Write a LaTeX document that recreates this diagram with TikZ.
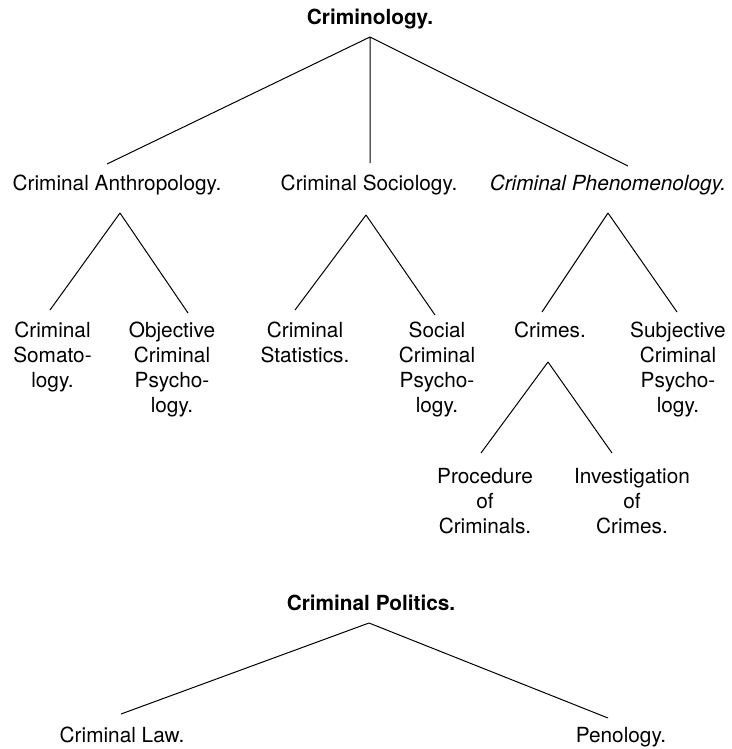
\documentclass[tikz,border=0pt]{standalone}
\usepackage{fontspec}
\setmainfont{TeX Gyre Heros}
\tikzset{
    every picture/.style={
        x=1pt,y=-1pt,line width=1pt,
        every node/.style={inner sep=0pt,anchor=base,align=center,
            font=\fontsize{20.8}{25}\selectfont},
        head/.style={font=\fontsize{20.8}{25}\selectfont\bfseries},
        slanted/.style={font=\fontsize{20.8}{25}\selectfont\itshape}
    }
}

\begin{document}
\begin{tikzpicture}
    \useasboundingbox (0,0) rectangle (731,749);
    % first tree (multi-line nodes sit on the baseline of their last line)
    \node[head]    (crim)   at (370,25)  {Criminology.};
    \node          (anth)   at (117,190) {Criminal Anthropology.};
    \node          (soc)    at (369,190) {Criminal Sociology.};
    \node[slanted] (phen)   at (608,190) {Criminal Phenomenology.};
    \node          (soma)   at (52.5,387) {Criminal\\Somato-\\logy.};
    \node          (objpsy) at (172,412) {Objective\\Criminal\\Psycho-\\logy.};
    \node          (stat)   at (305,362) {Criminal\\Statistics.};
    \node          (socpsy) at (437,412) {Social\\Criminal\\Psycho-\\logy.};
    \node          (crimes) at (550,337) {Crimes.};
    \node          (subpsy) at (678,412) {Subjective\\Criminal\\Psycho-\\logy.};
    \node          (proc)   at (485,533) {Procedure\\of\\Criminals.};
    \node          (inv)    at (632,533) {Investigation\\of\\Crimes.};
    % second tree
    \node[head]    (pol)    at (371,610) {Criminal Politics.};
    \node          (law)    at (122,742) {Criminal Law.};
    \node          (peno)   at (621,742) {Penology.};

    \coordinate (crim-fork)   at ([yshift=-12pt]crim.base);
    \coordinate (anth-fork)   at ([xshift=3pt,yshift=-23pt]anth.base);
    \coordinate (soc-fork)    at ([xshift=-3pt,yshift=-25pt]soc.base);
    \coordinate (phen-fork)   at ([yshift=-23pt]phen.base);
    \coordinate (crimes-fork) at ([xshift=-2pt,yshift=-25pt]crimes.base);
    \coordinate (pol-fork)    at ([xshift=-2pt,yshift=-13pt]pol.base);

    \draw (crim-fork) -- ([xshift=-10pt,yshift=26pt]anth.base)
          (crim-fork) -- ([xshift=1pt,yshift=27pt]soc.base)
          (crim-fork) -- ([xshift=20pt,yshift=24pt]phen.base);
    \draw (anth-fork) -- ([xshift=-2.5pt,yshift=77pt]soma.base)
          (anth-fork) -- ([xshift=16pt,yshift=99pt]objpsy.base);
    \draw (soc-fork) -- ([xshift=-10pt,yshift=52pt]stat.base)
          (soc-fork) -- ([xshift=-2pt,yshift=97pt]socpsy.base);
    \draw (phen-fork) -- ([xshift=-8pt,yshift=25pt]crimes.base)
          (phen-fork) -- ([xshift=-1pt,yshift=100pt]subpsy.base);
    \draw (crimes-fork) -- ([xshift=-4pt,yshift=80pt]proc.base)
          (crimes-fork) -- ([xshift=-20pt,yshift=80pt]inv.base);
    \draw (pol-fork) -- ([xshift=-1pt,yshift=28pt]law.base)
          (pol-fork) -- ([xshift=-13pt,yshift=24pt]peno.base);
\end{tikzpicture}
\end{document}
